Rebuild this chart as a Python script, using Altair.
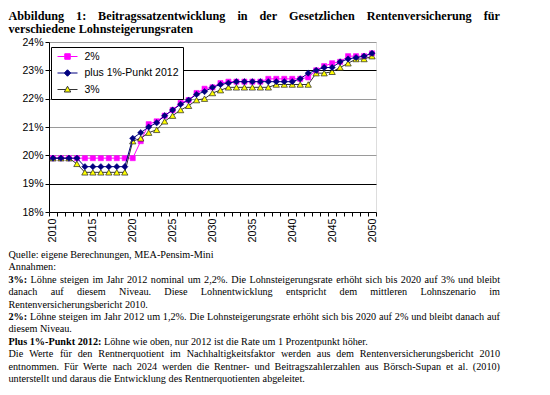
import altair as alt
import pandas as pd

# ---------------- data ----------------
years = list(range(2010, 2051))
rate_2 = [19.9] * 11 + [20.5, 21.1, 21.2, 21.4, 21.6, 21.85, 21.95, 22.2, 22.35, 22.4,
                        22.55, 22.6, 22.6, 22.6, 22.6, 22.6, 22.7, 22.7, 22.7, 22.7,
                        22.7, 22.75, 23.0, 23.15, 23.25, 23.3, 23.5, 23.5, 23.5, 23.6]
rate_plus = [19.9] * 4 + [19.6] * 6 + [20.6, 20.8, 21.0, 21.15, 21.4, 21.6, 21.8, 21.95,
                                       22.15, 22.25, 22.4, 22.5, 22.55] + [22.6] * 8 + \
            [22.7, 22.9, 23.0, 23.1, 23.1, 23.3, 23.4, 23.45, 23.5, 23.6]
rate_3 = [19.9] * 3 + [19.7] + [19.4] * 6 + [20.5, 20.6, 20.8, 20.9, 21.2, 21.4, 21.6, 21.75,
                                             21.95, 22.0, 22.2, 22.3] + [22.4] * 6 + [22.5] * 5 + \
         [22.9, 22.9, 22.95, 23.1, 23.25, 23.4, 23.4, 23.5]
series_names = ["2%", "plus 1%-Punkt 2012", "3%"]
y_ticks = [18, 19, 20, 21, 22, 23, 24]

TITLE = [
    ([("Abbildung 1: Beitragssatzentwicklung in der Gesetzlichen Rentenversicherung für", True)], True),
    ([("verschiedene Lohnsteigerungsraten", True)], False),
]
NOTES = [
    ([("Quelle: eigene Berechnungen, MEA-Pensim-Mini", False)], False),
    ([("Annahmen:", False)], False),
    ([("3%:", True), ("Löhne steigen im Jahr 2012 nominal um 2,2%. Die Lohnsteigerungsrate erhöht sich bis 2020 auf 3% und bleibt", False)], True),
    ([("danach auf diesem Niveau. Diese Lohnentwicklung entspricht dem mittleren Lohnszenario im", False)], True),
    ([("Rentenversicherungsbericht 2010.", False)], False),
    ([("2%:", True), ("Löhne steigen im Jahr 2012 um 1,2%. Die Lohnsteigerungsrate erhöht sich bis 2020 auf 2% und bleibt danach auf", False)], True),
    ([("diesem Niveau.", False)], False),
    ([("Plus 1%-Punkt 2012:", True), ("Löhne wie oben, nur 2012 ist die Rate um 1 Prozentpunkt höher.", False)], False),
    ([("Die Werte für den Rentnerquotient im Nachhaltigkeitsfaktor werden aus dem Rentenversicherungsbericht 2010", False)], True),
    ([("entnommen. Für Werte nach 2024 werden die Rentner- und Beitragszahlerzahlen aus Börsch-Supan et al. (2010)", False)], True),
    ([("unterstellt und daraus die Entwicklung des Rentnerquotienten abgeleitet.", False)], False),
]

# ---------------- text layout helpers (Times metrics) ----------------
def _table(base, spec):
    d = dict(base)
    for tok in spec.split():
        d[tok[0]] = int(tok[1:])
    for c in "0123456789":
        d[c] = 500
    return d

REG = _table({' ': 250, '(': 333, ')': 333, ',': 250, '-': 333, '.': 250, ':': 278, '%': 833},
             "A722 B667 C667 D722 E611 F556 G722 H722 I333 J389 K722 L611 M889 N722 O722 P556 Q722 "
             "R667 S556 T611 U722 V722 W944 X722 Y722 Z611 a444 b500 c444 d500 e444 f333 g500 h500 "
             "i278 j278 k500 l278 m778 n500 o500 p500 q500 r333 s389 t278 u500 v500 w722 x500 y500 "
             "z444 ä444 ö500 ü500")
BOLD = _table({' ': 250, '(': 333, ')': 333, ',': 250, '-': 333, '.': 250, ':': 333, '%': 1000},
              "A722 B667 C722 D722 E667 F611 G778 H778 I389 J500 K778 L667 M944 N722 O778 P611 Q778 "
              "R722 S556 T667 U722 V722 W1000 X722 Y722 Z667 a500 b556 c444 d556 e444 f333 g500 h556 "
              "i278 j333 k556 l278 m833 n556 o500 p556 q556 r444 s389 t333 u556 v500 w722 x500 y500 "
              "z444 ä500 ö500 ü556")

OX, OY = 49, 42          # page position of the plot origin
LEFT, RIGHT = 8.5, 500   # text block edges (page px)


def layout(lines, y0, dy, fs, rows):
    for k, (segs, just) in enumerate(lines):
        words = []
        for txt, b in segs:
            for w in txt.split(" "):
                t = BOLD if b else REG
                words.append((w, b, sum(t.get(c, 500) for c in w) * fs / 1000.0))
        total = sum(w[2] for w in words)
        if just and len(words) > 1:
            gap = (RIGHT - LEFT - total) / (len(words) - 1)
        else:
            gap = 0.25 * fs
        x = LEFT
        for w, b, wd in words:
            rows.append({"word": w, "px": x - OX, "py": y0 + k * dy - OY, "fs": fs, "bold": b})
            x += wd + gap


rows = []
layout(TITLE, 15.5, 13.2, 12.2, rows)
layout(NOTES, 255, 12.4, 10.2, rows)
text_df = pd.DataFrame(rows)

df = pd.DataFrame({
    "year": years * 3,
    "rate": rate_2 + rate_plus + rate_3,
    "series": [series_names[0]] * len(years) + [series_names[1]] * len(years) + [series_names[2]] * len(years),
})

# ---------------- chart ----------------
x_enc = alt.X("year:O",
              scale=alt.Scale(type="band", paddingInner=0, paddingOuter=0),
              axis=alt.Axis(title=None, labelAngle=270,
                            labelExpr="datum.value % 5 == 0 ? datum.label : ''",
                            tickBand="extent", tickSize=4, tickColor="black", domainColor="black",
                            labelFont="Liberation Sans", labelFontSize=10.8, labelColor="black",
                            labelPadding=2, labelOverlap=False, grid=False))
y_enc = alt.Y("rate:Q",
              scale=alt.Scale(domain=[18, 24], nice=False, zero=False),
              axis=alt.Axis(title=None, values=y_ticks, labelExpr="datum.value + '%'",
                            tickSize=4, tickColor="black", domainColor="black",
                            labelFont="Liberation Sans", labelFontSize=10.5, labelColor="black",
                            labelPadding=2,
                            gridColor={"condition": {"test": "datum.value == 19 || datum.value == 23",
                                                     "value": "#000000"},
                                       "value": "#9a9a9a"},
                            gridOpacity=1, gridWidth=1))

base = alt.Chart(df).encode(x=x_enc, y=y_enc)


def series_layers(name, line_color, shape, size, fill, stroke, sw):
    sub = base.transform_filter(alt.datum.series == name)
    ln = sub.mark_line(color=line_color, strokeWidth=1)
    pt = sub.mark_point(shape=shape, size=size, filled=True, fill=fill, stroke=stroke,
                        strokeWidth=sw, opacity=1)
    return [ln, pt]


layers = []
layers += series_layers("2%", "#FF00FF", "square", 26, "#FF00FF", "#FF00FF", 0.6)
layers += series_layers("3%", "#333333", "triangle-up", 40, "#FFFF00", "#222222", 0.7)
layers += series_layers("plus 1%-Punkt 2012", "#000080", "diamond", 40, "#000080", "#000080", 0.5)

p_sq = "M-2,0H-0.55M0.55,0H2M-0.55,-0.55H0.55V0.55H-0.55Z"
p_di = "M-2,0H-0.65M0.65,0H2M0,-0.65L0.65,0L0,0.65L-0.65,0Z"
p_tr = "M-2,0H-0.37M0.37,0H2M0,-0.65L0.65,0.5L-0.65,0.5Z"

leg = alt.Legend(title=None, orient="none", legendX=2, legendY=5, padding=4,
                 strokeColor="black", fillColor="white", symbolSize=100, symbolStrokeWidth=1,
                 symbolOffset=7, labelOffset=11.5, labelFont="Liberation Sans",
                 labelFontSize=10.5, labelColor="black", rowPadding=5.5, symbolOpacity=1)

legend_layer = alt.Chart(df).transform_filter("false").mark_point(opacity=1, strokeWidth=1).encode(
    shape=alt.Shape("series:N", scale=alt.Scale(domain=series_names, range=[p_sq, p_di, p_tr]), legend=leg),
    fill=alt.Fill("series:N", scale=alt.Scale(domain=series_names, range=["#FF00FF", "#000080", "#FFFF00"]), legend=leg),
    stroke=alt.Stroke("series:N", scale=alt.Scale(domain=series_names, range=["#FF00FF", "#000080", "#333333"]), legend=leg),
)

plot = alt.layer(*layers, legend_layer)

txt_enc = dict(x=alt.X("px:Q", scale=None, axis=None),
               y=alt.Y("py:Q", scale=None, axis=None),
               text="word:N",
               size=alt.Size("fs:Q", scale=None, legend=None))
txt_norm = alt.Chart(text_df).transform_filter("!datum.bold").mark_text(
    align="left", baseline="middle", font="Liberation Serif", color="black").encode(**txt_enc)
txt_bold = alt.Chart(text_df).transform_filter("datum.bold").mark_text(
    align="left", baseline="middle", font="Liberation Serif", fontWeight="bold", color="black").encode(**txt_enc)

chart = alt.layer(plot, txt_norm, txt_bold).resolve_scale(
    x="independent", y="independent"
).properties(
    width=327, height=170,
    autosize=alt.AutoSizeParams(type="none"),
    padding={"left": 41, "top": 34, "right": 166, "bottom": 175},
).configure_view(stroke="#8c8c8c", strokeWidth=1).configure(background="white")

chart.save("out.html", embed_options={"renderer": "svg", "actions": False})
